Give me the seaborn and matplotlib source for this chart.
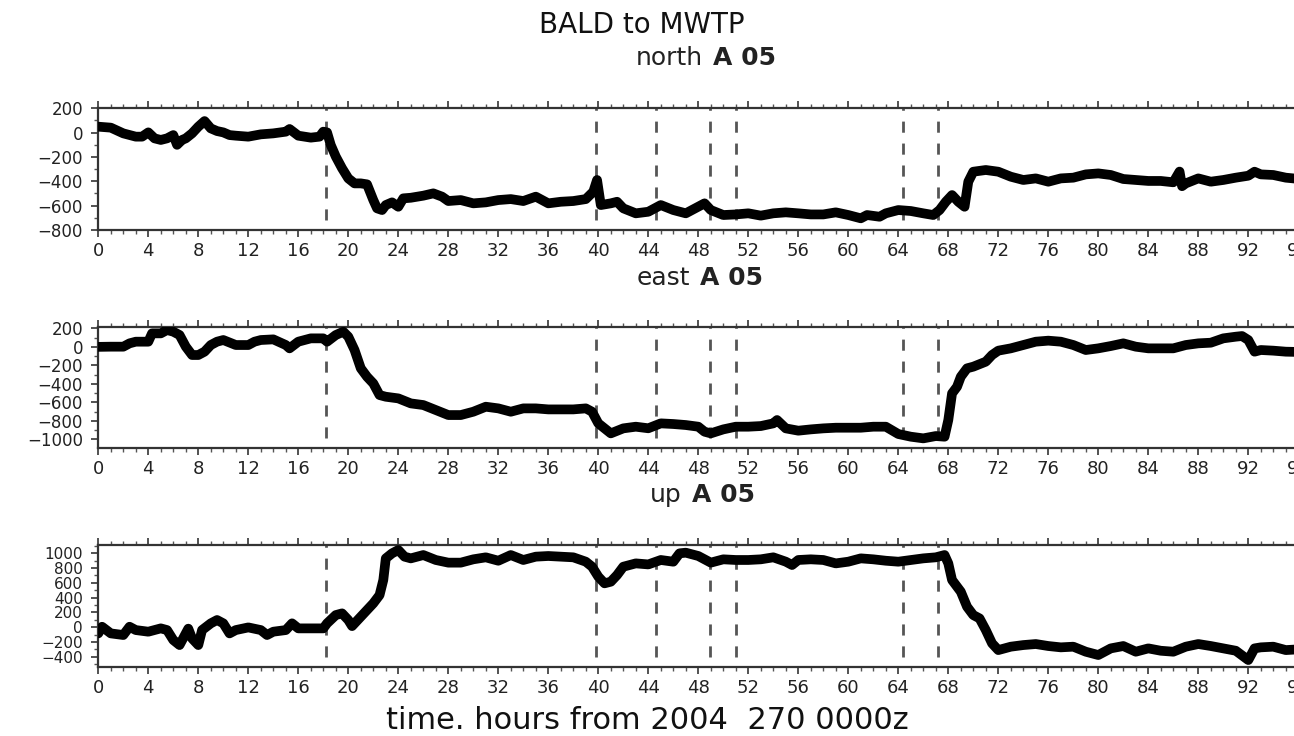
import matplotlib
matplotlib.use("Agg")
import matplotlib.pyplot as plt
from matplotlib.ticker import MultipleLocator
import seaborn as sns
import pandas as pd

# ---------------- data ----------------
north_t = [0, 1, 2, 3, 3.5, 4, 4.5, 5, 5.5, 6, 6.3, 6.7, 7, 7.5, 8, 8.5, 9, 9.5, 10, 10.5,
           11, 12, 13, 14, 15, 15.3, 16, 17, 17.7, 18, 18.3, 18.6, 19, 19.5, 20, 20.5, 21, 21.5,
           22, 22.3, 22.7, 23, 23.5, 24, 24.4, 25, 26, 26.8, 27.5, 28, 29, 30, 31, 32, 33, 34,
           35, 36, 37, 38, 39, 39.6, 39.9, 40.2, 41, 41.5, 42, 43, 44, 45, 46, 47, 48, 48.5, 49,
           50, 51, 52, 53, 54, 55, 56, 57, 58, 59, 60, 61, 61.5, 62.5, 63, 64, 65, 66, 66.8,
           67.3, 67.8, 68.3, 68.8, 69.3, 69.6, 70, 71, 72, 73, 74, 75, 76, 77, 78, 79, 80, 81,
           82, 83, 84, 85, 86, 86.5, 86.7, 87, 88, 89, 90, 91, 92, 92.5, 93, 94, 95, 96]
north_v = [49, 41, -6, -33, -33, 2, -47, -60, -47, -20, -100, -60, -47, -6, 49, 95, 35, 13, 2, -20,
           -25, -33, -14, -6, 8, 30, -25, -41, -33, 8, 2, -102, -197, -293, -376, -417, -417, -425,
           -554, -622, -636, -595, -573, -609, -540, -535, -518, -499, -526, -562, -554, -581, -573,
           -554, -546, -562, -526, -581, -568, -562, -546, -485, -389, -595, -581, -568, -622, -663,
           -650, -595, -636, -663, -609, -581, -636, -677, -672, -663, -682, -663, -655, -663, -672,
           -672, -655, -677, -704, -677, -691, -663, -636, -644, -663, -677, -636, -568, -513, -568,
           -609, -403, -321, -307, -321, -362, -389, -376, -403, -376, -370, -343, -335, -348, -381,
           -389, -397, -397, -408, -320, -440, -417, -376, -403, -389, -370, -354, -321, -343, -348,
           -370, -380]

east_t = [0, 1, 2, 2.5, 3, 4, 4.3, 5, 5.5, 6, 6.5, 7, 7.5, 8, 8.5, 9, 9.5, 10, 11, 12, 12.5, 13,
          14, 15, 15.3, 16, 17, 18, 18.3, 19, 19.6, 20, 20.5, 21, 21.5, 22, 22.5, 23, 24, 25, 26,
          27, 28, 29, 30, 31, 32, 33, 34, 35, 36, 37, 38, 39, 39.5, 40, 40.5, 41, 42, 43, 44, 45,
          46, 47, 48, 48.5, 49, 50, 51, 52, 53, 54, 54.3, 55, 56, 57, 58, 59, 60, 61, 62, 63, 64,
          65, 66, 67, 67.7, 68, 68.3, 68.7, 69, 69.5, 70, 71, 71.5, 72, 73, 74, 75, 76, 77, 78,
          79, 80, 81, 82, 83, 84, 85, 86, 87, 88, 89, 90, 91, 91.5, 92, 92.5, 93, 94, 95, 96]
east_v = [0, 2, 2, 38, 56, 56, 146, 146, 182, 164, 128, 2, -88, -88, -52, 20, 56, 74, 20, 20, 56, 74,
          81, 20, -16, 56, 92, 92, 56, 128, 164, 110, -34, -232, -323, -395, -521, -539, -557, -611,
          -629, -683, -737, -737, -701, -647, -665, -701, -665, -665, -676, -676, -676, -665, -701,
          -827, -881, -935, -881, -863, -880, -827, -834, -845, -863, -917, -935, -892, -863, -863,
          -856, -827, -791, -881, -906, -892, -881, -874, -874, -874, -863, -863, -942, -971, -989,
          -964, -971, -791, -503, -431, -323, -232, -214, -160, -88, -41, -16, 20, 56, 67, 56, 20,
          -34, -16, 9, 38, 2, -16, -16, -16, 20, 38, 45, 92, 110, 117, 74, -52, -34, -41, -52, -55]

up_t = [0, 0.3, 1, 2, 2.5, 3, 4, 5, 5.5, 6, 6.5, 7, 7.2, 7.5, 8, 8.3, 9, 9.5, 10, 10.5, 11, 12,
        13, 13.5, 14, 15, 15.5, 16, 17, 18, 18.3, 19, 19.5, 20, 20.3, 21, 21.5, 22, 22.5, 22.8,
        23, 23.5, 24, 24.5, 25, 26, 27, 28, 29, 30, 31, 32, 33, 34, 35, 36, 37, 38, 39, 39.5, 40,
        40.5, 41, 41.5, 42, 43, 44, 45, 46, 46.5, 47, 48, 48.5, 49, 50, 51, 52, 53, 54, 55, 55.5,
        56, 57, 58, 59, 60, 61, 62, 63, 64, 65, 66, 67, 67.7, 68, 68.3, 69, 69.5, 70, 70.5, 71,
        71.5, 72, 73, 74, 75, 76, 77, 78, 79, 80, 81, 82, 83, 84, 85, 86, 87, 88, 89, 90, 91, 92,
        92.5, 93, 94, 95, 96]
up_v = [-84, 6, -84, -106, 6, -39, -61, -16, -39, -174, -242, -84, -20, -152, -242, -39, 52, 97, 52,
        -84, -39, -3, -39, -106, -61, -39, 52, -16, -16, -16, 52, 164, 187, 97, 15, 142, 232, 323,
        435, 639, 932, 1000, 1045, 955, 932, 977, 910, 874, 874, 919, 946, 900, 977, 910, 955, 964,
        955, 946, 887, 819, 684, 594, 616, 706, 819, 864, 850, 910, 887, 1000, 1009, 964, 919, 874,
        919, 910, 910, 919, 946, 887, 842, 910, 919, 910, 864, 887, 932, 919, 900, 887, 910, 932,
        946, 977, 864, 639, 481, 277, 164, 119, -39, -219, -310, -264, -242, -228, -255, -273, -264,
        -332, -377, -287, -255, -332, -287, -319, -332, -264, -228, -255, -287, -319, -445, -287,
        -273, -264, -310, -300]

event_hours = [18.2, 39.8, 44.6, 48.9, 51.0, 64.4, 67.2]
hour_ticks = list(range(0, 97, 4))

panel_names = ["north", "east", "up"]
panel_ylims = [(-800, 200), (-1090, 218), (-535, 1113)]
panel_yticks = [list(range(-800, 201, 200)), list(range(-1000, 201, 200)),
                list(range(-400, 1001, 200))]

main_title = "BALD to MWTP"
site_label = "A 05"
x_label = "time. hours from 2004  270 0000z"

# ---------------- styling ----------------
sns.set_style("white")
plt.rcParams["font.family"] = ["DejaVu Sans"]
plt.rcParams["axes.unicode_minus"] = True

W, H = 1294, 736
fig = plt.figure(figsize=(W / 100, H / 100), dpi=100)

series = [(north_t, north_v), (east_t, east_v), (up_t, up_v)]
panel_px = [(108.3, 230.0), (326.7, 447.7), (545.0, 666.7)]
x_left_px = 98.3
x_width_px = 1200.0

title_baseline = [65, 285, 502]
word_right_px = [703, 690, 682]
ytick_sizes = [12, 12, 11]

for i, (name, (t, v)) in enumerate(zip(panel_names, series)):
    top, bot = panel_px[i]
    ax = fig.add_axes([x_left_px / W, 1 - bot / H, x_width_px / W, (bot - top) / H])
    df = pd.DataFrame({"hour": t, "value": v})
    for h in event_hours:
        ax.axvline(h, ymin=0.083, ymax=1.0, color="#555555", lw=2.0,
                   linestyle=(0, (4.0, 3.9)), zorder=1)
    sns.lineplot(data=df, x="hour", y="value", ax=ax, color="black", lw=7,
                 estimator=None, sort=False, zorder=3,
                 solid_capstyle="round", solid_joinstyle="round")
    ax.set_xlim(0, 96)
    ax.set_ylim(*panel_ylims[i])
    ax.set_xticks(hour_ticks)
    ax.xaxis.set_minor_locator(MultipleLocator(1))
    ax.set_yticks(panel_yticks[i])
    ax.yaxis.set_minor_locator(MultipleLocator(100))
    ax.set_xlabel("")
    ax.set_ylabel("")
    for s in ["left", "top", "bottom"]:
        ax.spines[s].set_visible(True)
        ax.spines[s].set_color("#333333")
        ax.spines[s].set_linewidth(1.6)
    ax.spines["right"].set_visible(False)
    ax.tick_params(axis="x", which="major", direction="out", length=5, width=1.3,
                   color="#444444", top=True, bottom=True, labeltop=False,
                   labelsize=13, pad=4, labelcolor="#222222")
    ax.tick_params(axis="x", which="minor", direction="out", length=3, width=1.0,
                   color="#555555", top=True, bottom=True)
    ax.tick_params(axis="y", which="major", direction="out", length=5, width=1.3,
                   color="#444444", left=True, labelsize=ytick_sizes[i], pad=6,
                   labelcolor="#222222")
    ax.tick_params(axis="y", which="minor", direction="out", length=3, width=1.0,
                   color="#555555", left=True)

    # panel title: "<component>" regular + "A 05" bold
    tx = word_right_px[i] / W
    ty = 1 - title_baseline[i] / H
    t1 = fig.text(tx, ty, name, ha="right", va="baseline", fontsize=18, color="#222222")
    ax.annotate(site_label, xy=(1, 0), xycoords=t1, xytext=(7, 0),
                textcoords="offset points", ha="left", va="bottom",
                fontsize=18, fontweight="bold", color="#222222",
                annotation_clip=False)

fig.text(642 / W, 1 - 33 / H, main_title, ha="center", va="baseline",
         fontsize=20, color="#111111")
fig.text(647 / W, 1 - 729 / H, x_label, ha="center", va="baseline",
         fontsize=22, color="#111111")

fig.savefig("out.png", dpi=100, facecolor="white")
